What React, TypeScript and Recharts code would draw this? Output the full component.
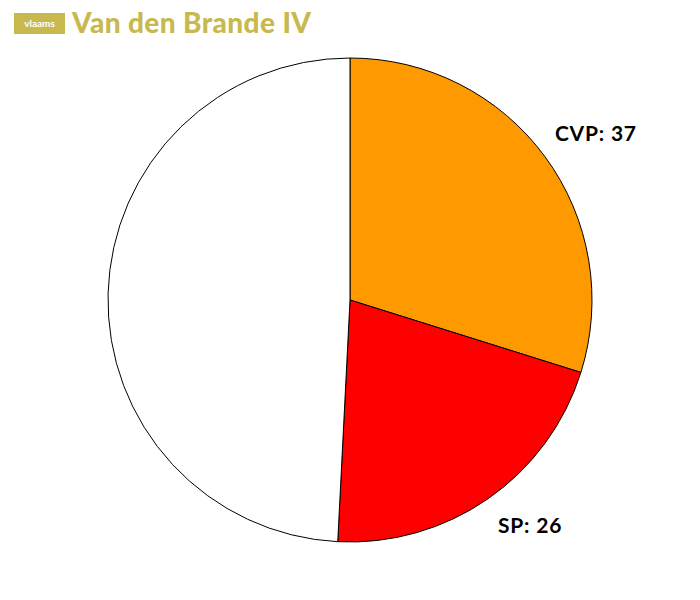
import React from 'react';
import { PieChart, Pie, Cell } from 'recharts';

const parties = ['CVP', 'SP', 'Overig'];
const seats = [37, 26, 61];
const sliceColors = ['#FF9900', '#FF0000', '#FFFFFF'];
const showLabel = [true, true, false];

const data = parties.map((name, i) => ({ name, value: seats[i] }));

const RADIAN = Math.PI / 180;
// label placement tweaks (radius from centre, angular nudge in degrees)
const labelRadius = [297.6, 287.8, 0];
const labelNudge = [-2.0, 3.9, 0];

const renderLabel = (props: any) => {
  const { cx, cy, midAngle, index, name, value } = props;
  if (!showLabel[index]) return null;
  const r = labelRadius[index];
  const a = midAngle + labelNudge[index];
  const x = cx + r * Math.cos(-a * RADIAN);
  const y = cy + r * Math.sin(-a * RADIAN);
  return (
    <text
      x={x}
      y={y}
      textAnchor="middle"
      dominantBaseline="central"
      fill="#000"
      fontFamily="Lato, 'DejaVu Sans', sans-serif"
      fontWeight={700}
      fontSize={21}
      letterSpacing={0.8}
    >
      {`${name}: ${value}`}
    </text>
  );
};

export default function App() {
  return (
    <div style={{ position: 'absolute', left: 0, top: 0, width: 700, height: 600, background: '#fff' }}>
      <div
        style={{
          position: 'absolute',
          left: 14,
          top: 13,
          width: 51,
          height: 21,
          background: '#C8B94F',
          color: '#fff',
          fontFamily: "Lato, 'DejaVu Sans', sans-serif",
          fontWeight: 700,
          fontSize: 10,
          lineHeight: '21px',
          textAlign: 'center',
        }}
      >
        vlaams
      </div>
      <div
        style={{
          position: 'absolute',
          left: 72,
          top: 5,
          color: '#C8B94F',
          fontFamily: "Lato, 'DejaVu Sans', sans-serif",
          fontWeight: 900,
          fontSize: 28,
          letterSpacing: 0.4,
          lineHeight: '34px',
          whiteSpace: 'nowrap',
        }}
      >
        Van den Brande IV
      </div>
      <PieChart width={700} height={600} margin={{ top: 0, right: 0, bottom: 0, left: 0 }}>
        <Pie
          data={data}
          dataKey="value"
          nameKey="name"
          cx={350}
          cy={300}
          outerRadius={242}
          innerRadius={0}
          startAngle={90}
          endAngle={-270}
          stroke="#000"
          strokeWidth={1}
          label={renderLabel}
          labelLine={false}
          isAnimationActive={false}
        >
          {data.map((d, i) => (
            <Cell key={d.name} fill={sliceColors[i]} />
          ))}
        </Pie>
      </PieChart>
    </div>
  );
}
